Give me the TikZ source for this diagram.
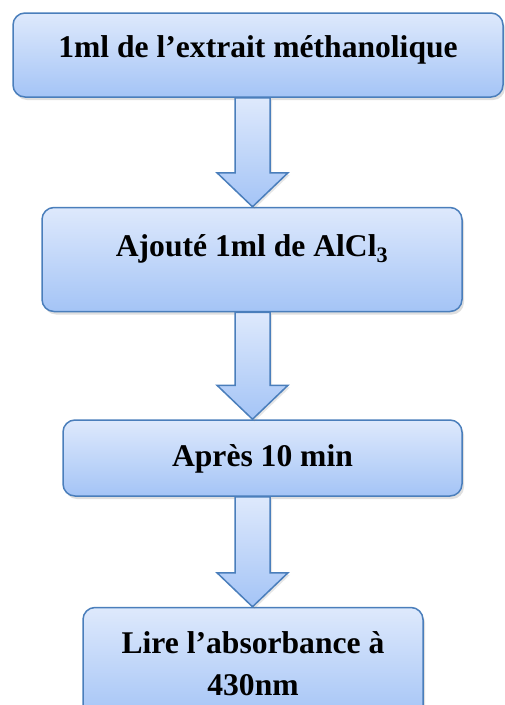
\documentclass[tikz,border=0pt]{standalone}
\usepackage{fontspec}
\setmainfont{Liberation Serif}
\usepackage{tikz}
\usetikzlibrary{positioning, calc, shadows}

\definecolor{boxline}{RGB}{74,126,187}
\definecolor{boxtop}{RGB}{222,233,252}
\definecolor{boxbottom}{RGB}{164,196,246}

% block arrow from the bottom of one box to the top of the next
\newcommand{\flowarrow}[2]{%
    \path (#1.south -| axis) coordinate (fs) (#2.north -| axis) coordinate (ft);
    \draw[flowarr] ($(fs)+(-17.5,0)$) -- ($(fs)+(17.5,0)$) -- ($(ft)+(17.5,-34)$)
        -- ($(ft)+(35.5,-34)$) -- (ft) -- ($(ft)+(-35.5,-34)$) -- ($(ft)+(-17.5,-34)$) -- cycle;
}

\begin{document}
\begin{tikzpicture}[
        x=1pt, y=-1pt,
        stepbox/.style={rectangle, rounded corners=12pt, draw=boxline, line width=1.5pt,
            top color=boxtop, bottom color=boxbottom, align=center, inner sep=4pt,
            font=\fontsize{31.6}{42}\selectfont\bfseries,
            drop shadow={opacity=0.25, shadow xshift=2pt, shadow yshift=-3pt}},
        flowarr/.style={draw=boxline, line width=1.5pt, line join=miter,
            top color=boxtop, bottom color=boxbottom,
            drop shadow={opacity=0.2, shadow xshift=2pt, shadow yshift=-2pt}}
    ]
    \clip (0,0) rectangle (505,705);
    \useasboundingbox (0,0) rectangle (505,705);

    % steps of the protocol
    \node[stepbox, minimum width=490pt, minimum height=84pt, text height=22pt, text depth=18pt]
        (extrait) at (258,55) {1ml de l’extrait méthanolique};
    \node[stepbox, minimum width=420pt, minimum height=104pt, text height=22pt, text depth=28pt,
        below=109pt of extrait, xshift=-6pt] (alcl) {Ajouté 1ml de AlCl\textsubscript{3}};
    \node[stepbox, minimum width=399pt, minimum height=76pt, text height=22pt, text depth=6pt,
        below=107pt of alcl, xshift=10.5pt] (attente) {Après 10 min};
    \node[stepbox, minimum width=340pt, minimum height=112pt,
        below=110pt of attente, xshift=-9.5pt] (lecture) {Lire l’absorbance à\\430nm};

    \coordinate (axis) at (252.5,0);
    \flowarrow{extrait}{alcl}
    \flowarrow{alcl}{attente}
    \flowarrow{attente}{lecture}

\end{tikzpicture}
\end{document}
